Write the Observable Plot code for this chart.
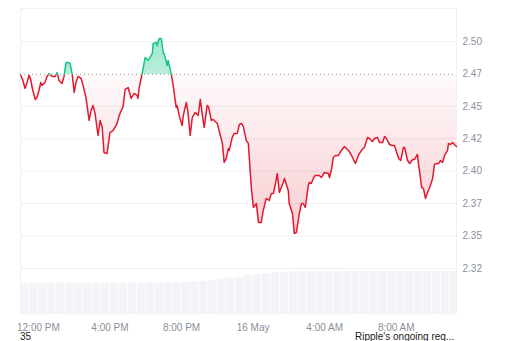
<!DOCTYPE html>
<html><head><meta charset="utf-8">
<script src="https://cdn.jsdelivr.net/npm/d3@7"></script>
<script src="https://cdn.jsdelivr.net/npm/@observablehq/plot@0.6"></script>
<style>
body{margin:0;background:#fff;font-family:"Liberation Sans",Arial,sans-serif;overflow:hidden;}
#wrap{position:relative;width:512px;height:333px;}
#wrap svg{position:absolute;left:0;top:0;}
#cap{position:relative;width:512px;height:8px;font-size:10px;color:#1a1a1a;line-height:11px;}
#cap span{position:absolute;top:-2px;white-space:nowrap;}
</style></head><body>
<div id="wrap"></div>
<div id="cap"><span id="c1" style="left:20px"></span><span id="c2" style="left:355px"></span></div>
<script>
// ---- data (minutes after 15 May 11:00, price USD) ----
const minutes = [0,8,15,22,29,35,39,49,55,62,68,72,82,89,96,106,116,123,129,139,146,153,159,166,173,180,186,193,203,210,220,230,237,243,250,260,267,274,280,290,300,311,324,331,344,351,361,371,381,391,394,398,408,418,428,442,445,455,458,465,472,479,482,492,495,505,512,522,525,532,542,546,556,562,569,576,586,596,603,609,616,626,630,640,646,660,670,677,683,690,697,700,710,717,727,734,741,747,757,764,774,781,791,798,807,814,824,834,841,848,855,861,868,881,885,898,901,912,918,925,935,942,948,955,965,968,975,982,988,1002,1009,1019,1032,1036,1042,1049,1056,1066,1076,1086,1100,1110,1123,1133,1143,1153,1164,1170,1180,1187,1197,1204,1214,1221,1227,1237,1247,1254,1268,1275,1284,1288,1298,1305,1315,1321,1331,1335,1338,1345,1351,1358,1365,1372,1382,1388,1395,1402,1408,1415,1422,1432,1435,1442,1449,1455,1462];
const prices = [2.4746,2.4699,2.4638,2.4684,2.4740,2.4699,2.4645,2.4553,2.4568,2.4622,2.4684,2.4661,2.4684,2.4730,2.4753,2.4730,2.4730,2.4761,2.4699,2.4676,2.4730,2.4838,2.4838,2.4830,2.4753,2.4607,2.4684,2.4730,2.4715,2.4661,2.4561,2.4391,2.4468,2.4507,2.4445,2.4275,2.4391,2.4337,2.4144,2.4136,2.4298,2.4314,2.4368,2.4430,2.4499,2.4630,2.4645,2.4561,2.4599,2.4584,2.4561,2.4645,2.4753,2.4877,2.4854,2.4907,2.4985,2.4992,2.4969,2.5023,2.5023,2.4907,2.4907,2.4815,2.4854,2.4753,2.4661,2.4491,2.4507,2.4430,2.4352,2.4430,2.4530,2.4445,2.4275,2.4414,2.4453,2.4430,2.4553,2.4445,2.4337,2.4507,2.4499,2.4391,2.4399,2.4368,2.4275,2.4214,2.4067,2.4098,2.4175,2.4160,2.4260,2.4291,2.4291,2.4360,2.4368,2.4345,2.4237,2.4214,2.3874,2.3720,2.3751,2.3604,2.3604,2.3697,2.3790,2.3774,2.3828,2.3828,2.3905,2.3982,2.3836,2.3913,2.3944,2.3851,2.3751,2.3674,2.3520,2.3527,2.3674,2.3751,2.3751,2.3720,2.3890,2.3913,2.3905,2.3944,2.3967,2.3967,2.3951,2.3990,2.3982,2.3951,2.4005,2.4106,2.4121,2.4121,2.4160,2.4190,2.4160,2.4121,2.4059,2.4121,2.4160,2.4183,2.4260,2.4252,2.4229,2.4252,2.4260,2.4221,2.4221,2.4268,2.4252,2.4206,2.4198,2.4198,2.4098,2.4082,2.4183,2.4183,2.4082,2.4059,2.4090,2.4090,2.4129,2.4044,2.4005,2.3874,2.3867,2.3790,2.3836,2.3874,2.3944,2.4052,2.4059,2.4059,2.4082,2.4067,2.4121,2.4160,2.4214,2.4206,2.4221,2.4206,2.4190];
const openPrice = 2.4746;
// volume (billions USD), one bar per 30 minutes from 11:00
const volume = [3.02,3.01,3.00,3.02,3.03,3.02,3.01,3.02,3.03,3.04,3.03,3.02,3.03,3.04,3.05,3.05,3.06,3.07,3.10,3.15,3.22,3.30,3.40,3.52,3.65,3.78,3.90,3.98,4.05,4.10,4.14,4.15,4.16,4.16,4.17,4.17,4.18,4.18,4.18,4.19,4.19,4.19,4.19,4.20,4.20,4.20,4.20,4.20,4.20];
const yTicks = [2.325,2.35,2.375,2.40,2.425,2.45,2.475,2.50];
const yTickLabels = ["2.32","2.35","2.37","2.40","2.42","2.45","2.47","2.50"];
const xTickHours = [12,16,20,24,28,32];
const xTickLabels = ["12:00 PM","4:00 PM","8:00 PM","16 May","4:00 AM","8:00 AM"];
const captionLeft = "35";
const captionRight = "Ripple's ongoing req...";

// ---- build ----
const W = 512, H = 333;
const RED = "#e0192f", GREEN = "#16c784", AXIS = "#8a8f99", GRID = "#eff1f4";
const start = new Date(2025, 4, 15, 11, 0);
const day0 = new Date(2025, 4, 15, 0, 0);
const data = minutes.map((m, i) => ({date: new Date(+start + m * 60000), price: prices[i], base: openPrice}));
const xDomain = [data[0].date, data[data.length - 1].date];
const xTicks = xTickHours.map(h => new Date(+day0 + h * 3600000));
const vol = volume.map((v, i) => ({d1: new Date(+start + i * 1800000), d2: new Date(+start + (i + 1) * 1800000), v}));
const font = {background: "transparent", overflow: "visible", fontFamily: "'Liberation Sans', Arial, sans-serif", fontSize: "10px"};

const volPlot = Plot.plot({
  width: W, height: H, marginLeft: 20, marginRight: 56, marginTop: 268, marginBottom: 20,
  style: font,
  x: {type: "time", domain: xDomain, axis: null},
  y: {domain: [0, 4.5], axis: null},
  marks: [
    Plot.rectY(vol, {x1: "d1", x2: "d2", y: "v", fill: "#f3f4f7", insetLeft: 0.4, insetRight: 0.4, clip: true})
  ]
});

const plot = Plot.plot({
  width: W, height: H, marginLeft: 20, marginRight: 56, marginTop: 8, marginBottom: 20,
  style: font,
  x: {type: "time", domain: xDomain},
  y: {domain: [2.2903, 2.5254]},
  marks: [
    Plot.frame({stroke: GRID}),
    Plot.gridY(yTicks.filter(t => t !== 2.475), {stroke: GRID, strokeOpacity: 1}),
    Plot.areaY(data, {x: "date", y1: "base", y2: "price", fill: "url(#gRed)"}),
    Plot.areaY(data, {x: "date", y1: "base", y2: "price", fill: "url(#gGreen)"}),
    Plot.ruleY([openPrice], {stroke: "#9a9a9a", strokeDasharray: "1,3", strokeWidth: 1}),
    Plot.lineY(data, {x: "date", y: "price", stroke: RED, strokeWidth: 1.5}),
    Plot.lineY(data, {x: "date", y: "price", stroke: GREEN, strokeWidth: 1.5}),
    Plot.axisY(yTicks, {anchor: "right", tickSize: 0, tickPadding: 6, fill: AXIS, textAnchor: "start",
      tickFormat: d => yTickLabels[yTicks.indexOf(d)], label: null}),
    Plot.axisX(xTicks, {tickSize: 0, tickPadding: 10, fill: AXIS,
      tickFormat: d => xTickLabels[xTicks.findIndex(t => +t === +d)], label: null})
  ]
});

const wrap = document.getElementById("wrap");
wrap.appendChild(volPlot);
wrap.appendChild(plot);

// gradients + clipping at the opening price
const ys = plot.scale("y");
const yb = ys.apply(openPrice);
const yMin = ys.apply(d3.min(prices));
const yMax = ys.apply(d3.max(prices));
const svg = d3.select(plot);
const defs = svg.insert("defs", ":first-child");
const gr = defs.append("linearGradient").attr("id", "gRed").attr("gradientUnits", "userSpaceOnUse")
  .attr("x1", 0).attr("x2", 0).attr("y1", yb).attr("y2", yMin);
gr.append("stop").attr("offset", 0).attr("stop-color", RED).attr("stop-opacity", 0.02);
gr.append("stop").attr("offset", 1).attr("stop-color", RED).attr("stop-opacity", 0.22);
const gg = defs.append("linearGradient").attr("id", "gGreen").attr("gradientUnits", "userSpaceOnUse")
  .attr("x1", 0).attr("x2", 0).attr("y1", yMax).attr("y2", yb);
gg.append("stop").attr("offset", 0).attr("stop-color", GREEN).attr("stop-opacity", 0.42);
gg.append("stop").attr("offset", 1).attr("stop-color", GREEN).attr("stop-opacity", 0.3);
defs.append("clipPath").attr("id", "cAbove").append("rect").attr("x", 0).attr("y", 0).attr("width", W).attr("height", yb);
defs.append("clipPath").attr("id", "cBelow").append("rect").attr("x", 0).attr("y", yb).attr("width", W).attr("height", H - yb);
const areas = svg.selectAll('g[aria-label="area"]').nodes();
const lines = svg.selectAll('g[aria-label="line"]').nodes();
if (areas.length === 2) { areas[0].setAttribute("clip-path", "url(#cBelow)"); areas[1].setAttribute("clip-path", "url(#cAbove)"); }
if (lines.length === 2) { lines[0].setAttribute("clip-path", "url(#cBelow)"); lines[1].setAttribute("clip-path", "url(#cAbove)"); }

document.getElementById("c1").textContent = captionLeft;
document.getElementById("c2").textContent = captionRight;
</script>
</body></html>
